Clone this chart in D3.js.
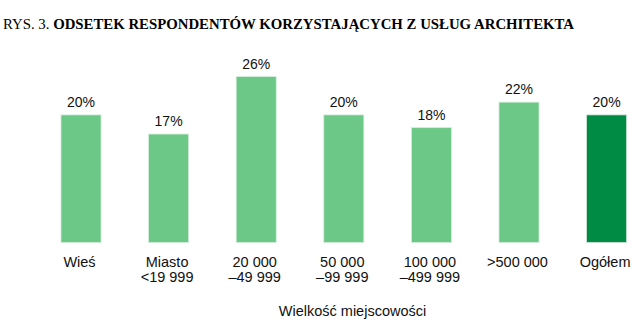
<!DOCTYPE html>
<html><head><meta charset="utf-8">
<script src="https://cdn.jsdelivr.net/npm/d3@7"></script>
<style>body{margin:0;background:#fff}</style>
</head><body>
<svg id="c" width="638" height="327"></svg>
<script>
const categories = [["Wieś"], ["Miasto", "<19 999"], ["20 000", "–49 999"], ["50 000", "–99 999"], ["100 000", "–499 999"], [">500 000"], ["Ogółem"]];
const values = [20, 17, 26, 20, 18, 22, 20];
const totalFlags = [false, false, false, false, false, false, true];
const titlePrefix = "RYS. 3. ";
const titleMain = "ODSETEK RESPONDENTÓW KORZYSTAJĄCYCH Z USŁUG ARCHITEKTA";
const axisTitle = "Wielkość miejscowości";

const svg = d3.select("#c");
const keys = categories.map((c, i) => i);
const x = d3.scaleBand().domain(keys).range([37.2, 650.4]).paddingInner(0.543).paddingOuter(0.2715);
const y = d3.scaleLinear().domain([0, 30]).range([242.5, 242.5 - 30 * 6.38]);

const t = svg.append("text").attr("x", 3).attr("y", 28.5)
  .attr("font-family", "'Liberation Serif', 'Times New Roman', serif").attr("font-size", 14.8).attr("fill", "#000");
t.append("tspan").text(titlePrefix);
t.append("tspan").attr("font-weight", "bold").text(titleMain);

svg.selectAll("rect.bar").data(values).join("rect").attr("class", "bar")
  .attr("x", (d, i) => x(i)).attr("width", x.bandwidth())
  .attr("y", d => y(d)).attr("height", d => y(0) - y(d))
  .attr("fill", (d, i) => totalFlags[i] ? "#008b45" : "#6bc886")
  .attr("stroke", (d, i) => totalFlags[i] ? "#cfe5d6" : "#d4ecdb").attr("stroke-width", 0.8);

const font = "'Liberation Sans', Arial, sans-serif";
svg.selectAll("text.val").data(values).join("text").attr("class", "val")
  .attr("x", (d, i) => x(i) + x.bandwidth() / 2).attr("y", d => y(d) - 7.8)
  .attr("text-anchor", "middle").attr("font-family", font).attr("font-size", 14).attr("fill", "#111")
  .text(d => d + "%");

const cl = svg.selectAll("text.cat").data(categories).join("text").attr("class", "cat")
  .attr("x", (d, i) => x(i) + x.bandwidth() / 2 - 1.5).attr("y", 266.7)
  .attr("text-anchor", "middle").attr("font-family", font).attr("font-size", 14.5).attr("fill", "#111");
cl.each(function(d, i) {
  const el = d3.select(this);
  d.forEach((line, j) => {
    el.append("tspan").attr("x", x(i) + x.bandwidth() / 2 - 1.5).attr("dy", j === 0 ? 0 : 15).text(line);
  });
});

svg.append("text").attr("x", 352.5).attr("y", 315.5).attr("text-anchor", "middle")
  .attr("font-family", font).attr("font-size", 14.5).attr("fill", "#111").text(axisTitle);
</script>
</body></html>
